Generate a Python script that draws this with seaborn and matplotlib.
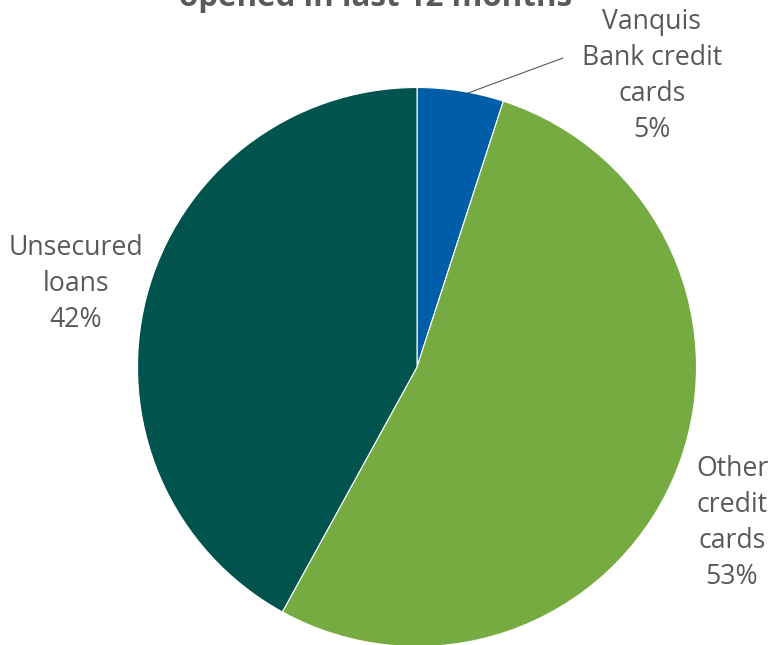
import matplotlib
matplotlib.use("Agg")
import matplotlib.pyplot as plt
import seaborn as sns

sns.set_theme(style="white")
plt.rcParams["font.family"] = ["Open Sans", "DejaVu Sans"]

categories = ["Vanquis\nBank credit\ncards", "Other\ncredit\ncards", "Unsecured\nloans"]
shares = [5, 53, 42]
colors = ["#005EA8", "#76AB41", "#00544D"]
title = "opened in last 12 months"

W, H = 769, 645
fig = plt.figure(figsize=(W / 100, H / 100), dpi=100)
ax = fig.add_axes([0, 0, 1, 1])

cx, cy, r = 417, H - 367, 279.5
ax.pie(shares, colors=colors, startangle=90, counterclock=False,
       center=(cx, cy), radius=r, frame=True,
       wedgeprops=dict(linewidth=0.8, edgecolor="white"))
ax.set_xlim(0, W)
ax.set_ylim(0, H)
ax.set_aspect("equal")
ax.axis("off")

grey = "#595959"
label_pos = [(652, H - 76), (732, H - 523), (76, H - 284)]
for cat, val, (x, y) in zip(categories, shares, label_pos):
    ax.text(x, y, f"{cat}\n{val}%", ha="center", va="center",
            fontsize=19.2, color=grey, linespacing=1.38)

# leader line for the small slice
ax.plot([468, 563], [H - 93, H - 58], color=grey, lw=0.8)

ax.text(376, H - 6, title, ha="center", va="baseline",
        fontsize=22.5, fontweight="bold", color=grey)

fig.savefig("out.png", dpi=100)
